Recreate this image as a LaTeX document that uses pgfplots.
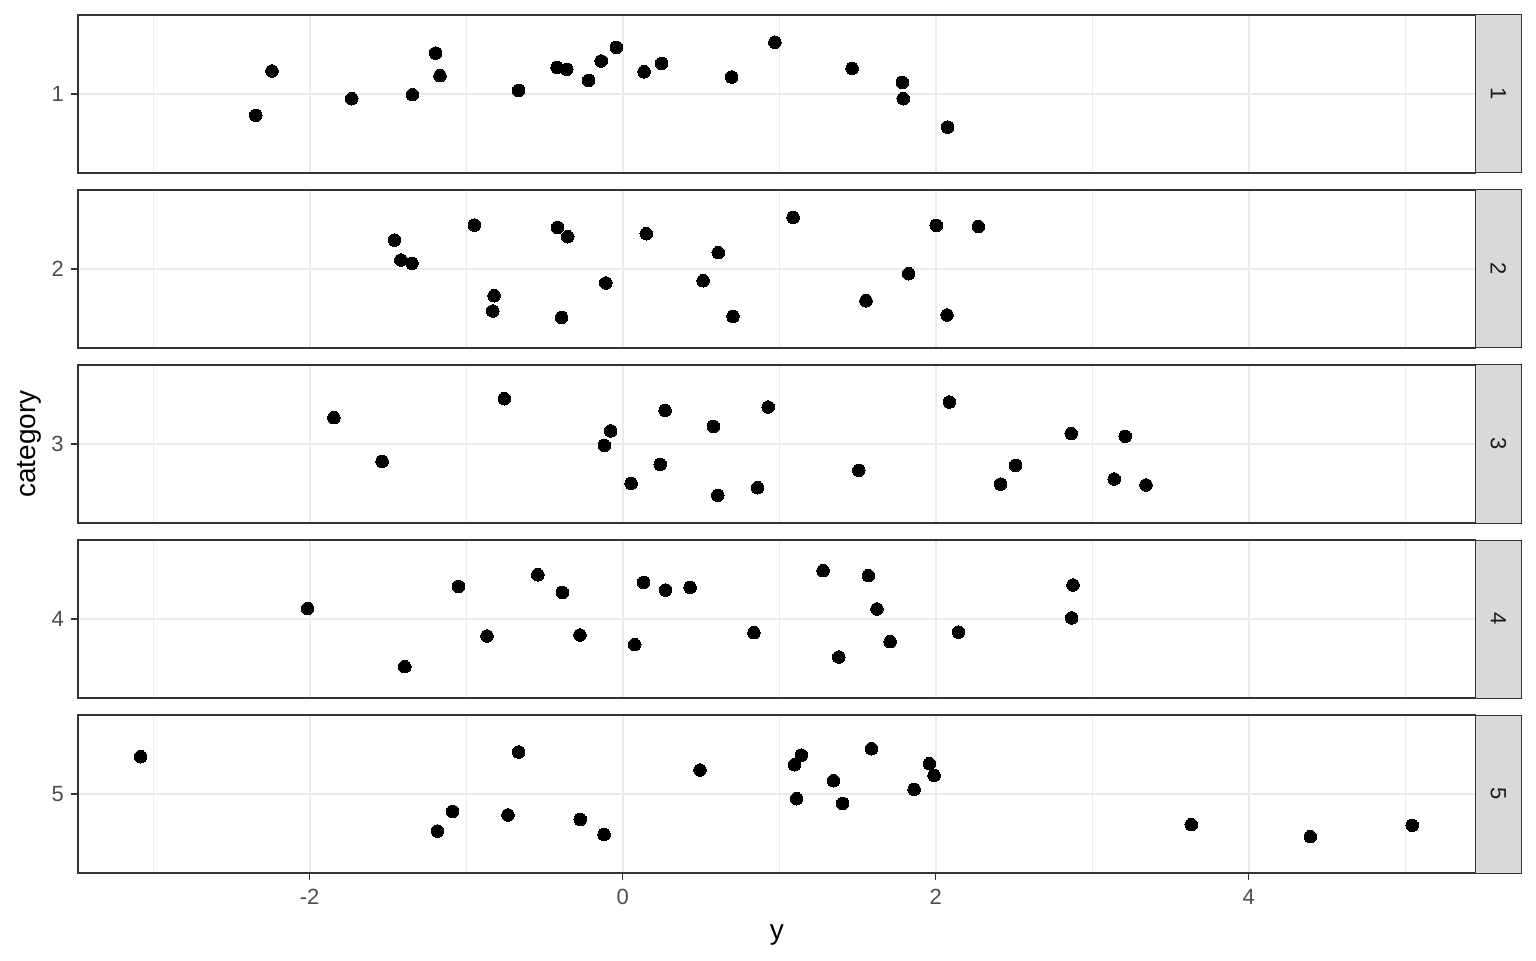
\documentclass[border=0pt]{standalone}
\usepackage{fontspec}
\setmainfont{Liberation Sans}
\usepackage{pgfplots}
\pgfplotsset{compat=1.18}
\definecolor{gridc}{HTML}{EBEBEB}
\definecolor{bordc}{HTML}{333333}
\definecolor{stripc}{HTML}{D9D9D9}
\definecolor{tickc}{HTML}{4D4D4D}
\definecolor{stript}{HTML}{1A1A1A}
\pgfplotsset{
 panel/.style={
  scale only axis, width=698.8pt, height=79pt,
  xmin=-3.48, xmax=5.45,
  xtick={-2,0,2,4}, minor xtick={-3,-1,1,3,5},
  xmajorgrids, xminorgrids, ymajorgrids,
  major grid style={color=gridc, line width=1.1pt},
  minor grid style={color=gridc, line width=0.55pt},
  axis line style={color=bordc, line width=0.7pt},
  tick align=outside, major tick length=3.6pt, minor tick length=0pt,
  tick style={color=bordc, line width=0.7pt},
  tick pos=left,
  tick label style={font=\fontsize{11}{13}\selectfont, text=tickc},
  xticklabel style={yshift=-1pt},
  label style={font=\fontsize{14}{16}\selectfont, text=black},
  anchor=south west,
 },
 pts/.style={only marks, mark=*, mark size=3.15pt, black, mark options={fill=black, draw=black, line width=0pt}},
}
\begin{document}
\begin{tikzpicture}
\useasboundingbox (0,0) rectangle (768pt,480pt);
\begin{axis}[panel, at={(39pt,393.5pt)}, ymin=0.4, ymax=1.6, ytick={1}, yticklabels={1}, xticklabels={}, xtick style={draw=none}]
\addplot[pts] coordinates {(-2.344,0.838) (-2.241,1.175) (-1.731,0.964) (-1.343,0.995) (-1.195,1.311) (-1.167,1.139) (-0.665,1.027) (-0.419,1.202) (-0.357,1.187) (-0.217,1.103) (-0.137,1.251) (-0.040,1.354) (0.137,1.169) (0.249,1.232) (0.696,1.129) (0.973,1.393) (1.466,1.194) (1.787,1.088) (1.793,0.964) (2.076,0.749)};
\end{axis}
\begin{axis}[panel, at={(39pt,306pt)}, ymin=1.4, ymax=2.6, ytick={2}, yticklabels={2}, xticklabels={}, xtick style={draw=none}]
\addplot[pts] coordinates {(-1.458,2.220) (-1.417,2.068) (-1.346,2.043) (-0.947,2.334) (-0.821,1.797) (-0.830,1.681) (-0.416,2.316) (-0.351,2.245) (-0.108,1.894) (0.151,2.268) (0.514,1.911) (0.611,2.124) (-0.390,1.632) (0.705,1.640) (1.089,2.392) (2.004,2.331) (2.273,2.323) (1.827,1.964) (1.555,1.759) (2.073,1.651)};
\end{axis}
\begin{axis}[panel, at={(39pt,218.5pt)}, ymin=2.4, ymax=3.6, ytick={3}, yticklabels={3}, xticklabels={}, xtick style={draw=none},
  ylabel={category}, ylabel style={at={(axis description cs:-0.0351,0.5)}, anchor=center}]
\addplot[pts] coordinates {(-1.845,3.200) (-1.537,2.868) (-0.756,3.344) (-0.077,3.099) (-0.117,2.989) (0.054,2.701) (0.271,3.255) (0.240,2.845) (0.580,3.134) (0.608,2.610) (0.862,2.668) (0.930,3.281) (2.088,3.319) (1.509,2.800) (2.866,3.080) (3.211,3.058) (2.511,2.838) (2.415,2.696) (3.141,2.734) (3.344,2.689)};
\end{axis}
\begin{axis}[panel, at={(39pt,131pt)}, ymin=3.4, ymax=4.6, ytick={4}, yticklabels={4}, xticklabels={}, xtick style={draw=none}]
\addplot[pts] coordinates {(-2.013,4.080) (-1.049,4.248) (-1.392,3.638) (-0.867,3.871) (-0.542,4.336) (-0.385,4.202) (-0.273,3.879) (0.134,4.278) (0.077,3.805) (0.274,4.220) (0.431,4.240) (0.839,3.896) (1.281,4.367) (1.570,4.329) (1.625,4.076) (1.709,3.828) (1.381,3.711) (2.146,3.901) (2.878,4.258) (2.869,4.008)};
\end{axis}
\begin{axis}[panel, at={(39pt,43.5pt)}, ymin=4.4, ymax=5.6, ytick={5}, yticklabels={5}, xticklabels={-2,0,2,4},
  xlabel={y}, xlabel style={at={(axis description cs:0.5,-0.392)}, anchor=center}]
\addplot[pts] coordinates {(-3.080,5.283) (-0.665,5.319) (0.494,5.182) (-1.087,4.868) (-1.183,4.719) (-0.733,4.841) (-0.271,4.807) (-0.119,4.693) (1.142,5.296) (1.098,5.222) (1.590,5.344) (1.960,5.230) (1.990,5.141) (1.347,5.101) (1.862,5.035) (1.112,4.964) (1.405,4.929) (3.633,4.767) (4.394,4.676) (5.045,4.762)};
\end{axis}
\foreach \k/\yb/\yt/\yc in {1/393.5/472.5/433, 2/306/385/345.5, 3/218.5/297.5/258, 4/131/210/170.5, 5/43.5/122.5/83} {
  \draw[fill=stripc, draw=bordc, line width=0.5pt] (737.8pt,\yb pt) rectangle (760.5pt,\yt pt);
  \node[rotate=-90, text=stript, font=\fontsize{11}{13}\selectfont, inner sep=0pt] at (749.2pt,\yc pt) {\k};
}
\end{tikzpicture}
\end{document}
